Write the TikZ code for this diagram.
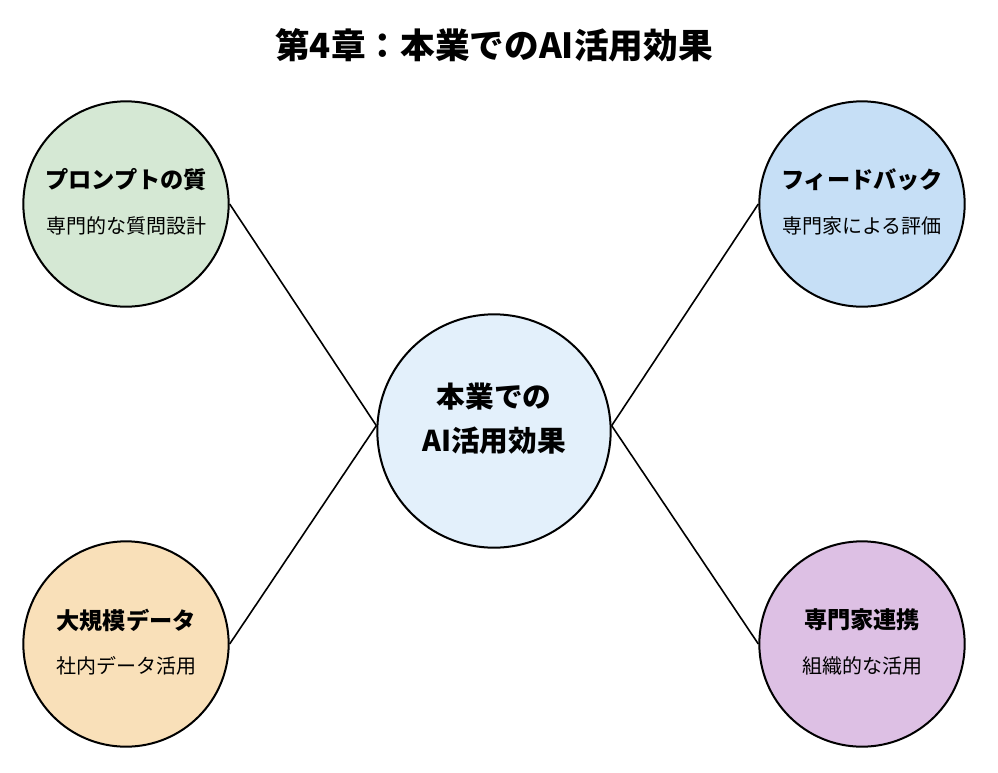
\documentclass[tikz,border=0pt]{standalone}
\usepackage{fontspec}
\setmainfont{Noto Sans CJK JP}
\begin{document}
\begin{tikzpicture}[x=0.75pt,y=-0.75pt,
  circ/.style={circle,draw=black,line width=1.5pt,minimum size=#1,inner sep=0pt},
  ttl/.style={font=\bfseries\fontsize{17.4}{20}\selectfont},
  sub/.style={font=\fontsize{15}{18}\selectfont},
  conn/.style={line width=1.2pt}]
\useasboundingbox (0,0) rectangle (998,772);
\definecolor{cgreen}{HTML}{D5E8D4}
\definecolor{cblue}{HTML}{C6DFF6}
\definecolor{ccent}{HTML}{E3F0FB}
\definecolor{corange}{HTML}{F9E0B9}
\definecolor{cpurple}{HTML}{DDC0E4}
\node[font=\bfseries\fontsize{26}{30}\selectfont] (title) at (494,45) {第4章：本業でのAI活用効果};
\node[circ=175pt,fill=ccent] (c) at (494,431) {};
\node[font=\bfseries\fontsize{21.5}{33}\selectfont,align=center] (ct) at (494,419) {本業での\\AI活用効果};
\node[circ=154pt,fill=cgreen] (tl) at (126,204) {};
\node[circ=154pt,fill=cblue] (tr) at (862,204) {};
\node[circ=154pt,fill=corange] (bl) at (126,644) {};
\node[circ=154pt,fill=cpurple] (br) at (862,644) {};
\node[ttl] (tl1) at (126,180) {プロンプトの質};
\node[sub] (tl2) at (126,226) {専門的な質問設計};
\node[ttl] (tr1) at (862,180) {フィードバック};
\node[sub] (tr2) at (862,226) {専門家による評価};
\node[ttl] (bl1) at (126,620) {大規模データ};
\node[sub] (bl2) at (126,666) {社内データ活用};
\node[ttl] (br1) at (862,620) {専門家連携};
\node[sub] (br2) at (862,666) {組織的な活用};
\draw[conn] (tl.east) -- ([yshift=4pt]c.west);
\draw[conn] (bl.east) -- ([yshift=4pt]c.west);
\draw[conn] (tr.west) -- ([yshift=4pt]c.east);
\draw[conn] (br.west) -- ([yshift=4pt]c.east);
\end{tikzpicture}
\end{document}
